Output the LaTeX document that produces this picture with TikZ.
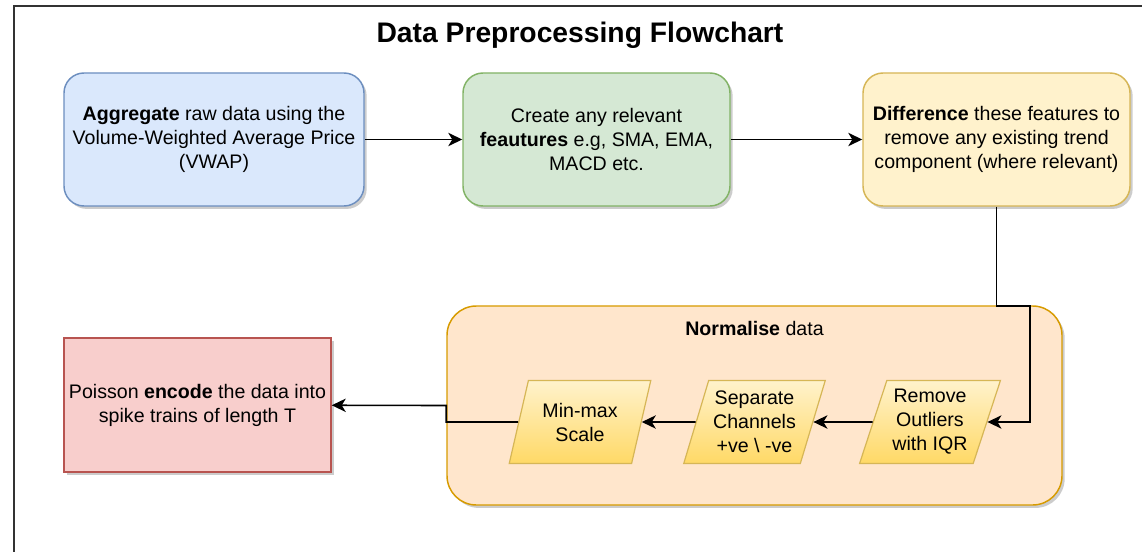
\documentclass[tikz,border=0pt]{standalone}
\usepackage{fontspec}
\setmainfont{Liberation Sans}
\usetikzlibrary{arrows.meta,shapes.geometric,shadows}

\definecolor{aggfill}{HTML}{DAE8FC}
\definecolor{aggline}{HTML}{6C8EBF}
\definecolor{featfill}{HTML}{D5E8D4}
\definecolor{featline}{HTML}{82B366}
\definecolor{difffill}{HTML}{FFF2CC}
\definecolor{diffline}{HTML}{D6B656}
\definecolor{normfill}{HTML}{FFE6CC}
\definecolor{normline}{HTML}{D79B00}
\definecolor{poisfill}{HTML}{F8CECC}
\definecolor{poisline}{HTML}{B85450}
\definecolor{paradark}{HTML}{FFD966}

\tikzset{
  txt/.style={font=\fontsize{14.7}{18}\selectfont, align=center, inner sep=0pt},
  shade/.style={drop shadow={shadow xshift=2pt, shadow yshift=-2.2pt, opacity=0.2, fill=black}},
  stage/.style={txt, rounded corners=15pt, line width=1.1pt, minimum height=99.75pt, shade},
  para/.style={txt, trapezium, trapezium left angle=70, trapezium right angle=110,
    trapezium stretches=true, minimum width=106.5pt, minimum height=62.25pt,
    draw=diffline, line width=0.9pt, top color=difffill, bottom color=paradark},
  arr/.style={-{Stealth[length=10.5pt, width=10pt, inset=3pt]}, line width=1.2pt}
}

\begin{document}
\begin{tikzpicture}[x=0.75pt, y=-0.75pt]
  \useasboundingbox (0,0) rectangle (1142,552);
  \draw[line width=1pt, black!80] (14,552)--(14,6)--(1142,6);

  \node[txt, font=\fontsize{21.2}{25}\selectfont\bfseries] (title) at (580,35) {Data Preprocessing Flowchart};

  \node[stage, fill=aggfill, draw=aggline, minimum width=225pt] (agg) at (214,139.5)
    {\textbf{Aggregate} raw data using the\\Volume-Weighted Average Price\\(VWAP)};
  \node[stage, fill=featfill, draw=featline, minimum width=200.25pt] (feat) at (596.5,139.5)
    {Create any relevant\\\textbf{feautures} e.g, SMA, EMA,\\MACD etc.};
  \node[stage, fill=difffill, draw=diffline, minimum width=200.25pt] (diff) at (996.5,139.5)
    {\textbf{Difference} these features to\\remove any existing trend\\component (where relevant)};

  \node[txt, rounded corners=22pt, line width=1.1pt, fill=normfill, draw=normline,
    minimum width=461.25pt, minimum height=149.25pt, shade] (norm) at (754.5,405.5) {};
  \node[txt] (normlbl) at (754.5,328.5) {\textbf{Normalise} data};

  \node[para] (outl) at (930,422) {Remove\\Outliers\\with IQR};
  \node[para] (sep) at (754.5,422) {Separate\\Channels\\+ve \textbackslash\ -ve};
  \node[para] (minmax) at (580,422) {Min-max\\Scale};

  \node[txt, line width=1.1pt, fill=poisfill, draw=poisline, minimum width=200.25pt,
    minimum height=100.5pt, shade] (pois) at (197.5,405)
    {Poisson \textbf{encode} the data into\\spike trains of length T};

  \coordinate (turn) at (1030,306);
  \draw[arr] (agg) -- (feat);
  \draw[arr] (feat) -- (diff);
  \draw[arr] (diff.south) |- (turn) |- (outl);
  \draw[arr] (outl) -- (sep);
  \draw[arr] (sep) -- (minmax);
  \draw[arr] (minmax) -- (minmax -| norm.west) -- (norm.west) -- (pois);
\end{tikzpicture}
\end{document}
